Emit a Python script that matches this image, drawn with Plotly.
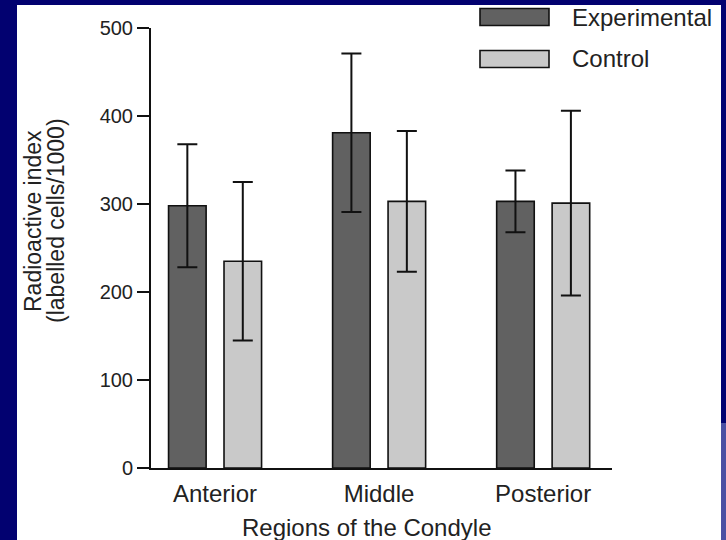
import plotly.graph_objects as go

# ---- data ----
categories = ["Anterior", "Middle", "Posterior"]
series_names = ["Experimental", "Control"]
experimental = [298, 381, 303]
experimental_err = [70, 90, 35]
control = [235, 303, 301]
control_err = [90, 80, 105]
y_ticks = [0, 100, 200, 300, 400, 500]

x_title = "Regions of the Condyle"
y_title_lines = ["Radioactive index", "(labelled cells/1000)"]

FONT = "Liberation Sans, Arial, sans-serif"
TXT = "#222222"
EXP_COL = "#616161"
CTL_COL = "#c9c9c9"
NAVY = "#020170"

fig = go.Figure()
bar_w = 0.229
for name, vals, errs, col, off in [
    (series_names[0], experimental, experimental_err, EXP_COL, -0.283),
    (series_names[1], control, control_err, CTL_COL, 0.055),
]:
    fig.add_trace(go.Bar(
        x=categories, y=vals, name=name,
        width=bar_w, offset=off,
        marker=dict(color=col, line=dict(color="#111111", width=1.6)),
        error_y=dict(type="data", array=errs, visible=True,
                     color="#111111", thickness=2, width=10),
        showlegend=False,
    ))

# plot area: x 151..612, y 28..468 in pixels
L, R, T, B = 151, 612, 28, 468
W, H = 726, 540
pw, ph = R - L, B - T

def px(xp):
    return (xp - L) / pw

def py(yp):
    return (B - yp) / ph

shapes = [
    # white slide panel
    dict(type="rect", xref="paper", yref="paper", layer="below",
         x0=px(17), x1=px(721), y0=py(541), y1=py(5),
         fillcolor="white", line=dict(width=0)),
    # lighter blue strip on the right edge
    dict(type="rect", xref="paper", yref="paper", layer="below",
         x0=px(721), x1=px(727), y0=py(541), y1=py(423),
         fillcolor="#4b4fa3", line=dict(width=0)),
]
annotations = []
# custom legend
legend_cols = [EXP_COL, CTL_COL]
legend_y = [17, 59]
for name, col, yc in zip(series_names, legend_cols, legend_y):
    shapes.append(dict(type="rect", xref="paper", yref="paper",
                       x0=px(480), x1=px(549), y0=py(yc + 8.5), y1=py(yc - 8.5),
                       fillcolor=col, line=dict(color="#111111", width=1.6)))
    annotations.append(dict(xref="paper", yref="paper", x=px(570), y=py(yc),
                            xanchor="left", yanchor="middle", showarrow=False,
                            text=name, font=dict(family=FONT, size=24, color=TXT)))

annotations.append(dict(xref="paper", yref="paper", x=px(367), y=py(527),
                        xanchor="center", yanchor="middle", showarrow=False,
                        text=x_title, font=dict(family=FONT, size=24, color=TXT)))
for line, xc in zip(y_title_lines, [33, 56]):
    annotations.append(dict(xref="paper", yref="paper", x=px(xc), y=py(221),
                            xanchor="center", yanchor="middle", showarrow=False,
                            textangle=-90, text=line,
                            font=dict(family=FONT, size=23, color=TXT)))

fig.update_layout(
    width=W, height=H,
    margin=dict(l=L, r=W - R, t=T, b=H - B, pad=0),
    paper_bgcolor=NAVY, plot_bgcolor="white",
    barmode="overlay",
    shapes=shapes, annotations=annotations,
    font=dict(family=FONT, color=TXT),
)
fig.update_xaxes(
    range=[-0.39, 2.42], showgrid=False, zeroline=False,
    showline=True, linecolor="#111111", linewidth=2,
    ticks="outside", ticklen=3, tickcolor="rgba(0,0,0,0)",
    tickfont=dict(family=FONT, size=24, color=TXT),
)
fig.update_yaxes(
    range=[0, 500], tickvals=y_ticks, showgrid=False, zeroline=False,
    showline=True, linecolor="#111111", linewidth=2,
    ticks="outside", ticklen=12, tickwidth=2, tickcolor="#111111",
    tickfont=dict(family=FONT, size=20, color=TXT),
)

fig.write_html(
    "out.html",
    config={"displayModeBar": False},
    post_script="document.body.style.margin='0';document.body.style.background='%s';" % NAVY,
)
